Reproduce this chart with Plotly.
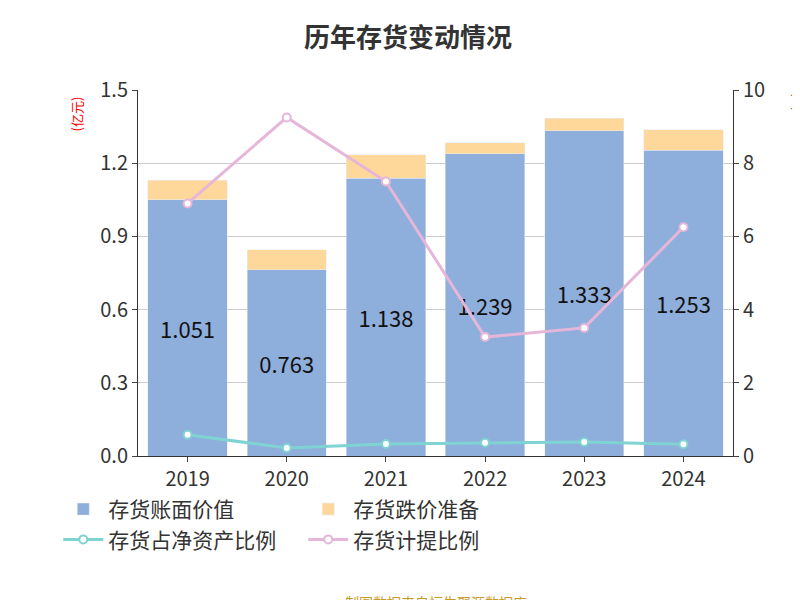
import plotly.graph_objects as go

years = ["2019", "2020", "2021", "2022", "2023", "2024"]
book = [1.051, 0.763, 1.138, 1.239, 1.333, 1.253]
reserve = [0.079, 0.082, 0.097, 0.044, 0.052, 0.085]
net_ratio = [0.58, 0.22, 0.33, 0.36, 0.38, 0.32]
prov_ratio = [6.9, 9.25, 7.5, 3.25, 3.5, 6.25]

fig = go.Figure()
fig.add_bar(x=years, y=book, name="存货账面价值", marker_color="#8eaedb",
            text=[f"{v:.3f}" for v in book], textposition="inside", insidetextanchor="middle",
            textfont=dict(size=22, color="#111"))
fig.add_bar(x=years, y=reserve, name="存货跌价准备", marker_color="#fdd89a")
fig.add_scatter(x=years, y=net_ratio, name="存货占净资产比例", yaxis="y2", mode="lines+markers",
                line=dict(color="#7fd3d3", width=3),
                marker=dict(size=8, color="white", line=dict(color="#7fd3d3", width=2)))
fig.add_scatter(x=years, y=prov_ratio, name="存货计提比例", yaxis="y2", mode="lines+markers",
                line=dict(color="#e6b6d9", width=3),
                marker=dict(size=8, color="white", line=dict(color="#e6b6d9", width=2)))

fig.update_layout(
    width=800, height=600, barmode="stack", bargap=0.2,
    font=dict(family="Noto Sans CJK SC", color="#333"),
    plot_bgcolor="white", paper_bgcolor="white",
    title=dict(text="<b>历年存货变动情况</b>", x=0.5, y=0.965, font=dict(size=26, color="#333")),
    margin=dict(l=130, r=75, t=82, b=152),
    xaxis=dict(tickfont=dict(size=20), showline=True, linecolor="#333", ticks="outside"),
    yaxis=dict(range=[0, 1.5], dtick=0.3, tickformat=".1f", tickfont=dict(size=20),
               gridcolor="#ccc", showline=True, linecolor="#333", ticks="outside"),
    yaxis2=dict(range=[0, 10], dtick=2, overlaying="y", side="right", tickfont=dict(size=20),
                showgrid=False, showline=True, linecolor="#333", ticks="outside"),
    legend=dict(orientation="h", x=-0.134, y=-0.09, xanchor="left", yanchor="top",
                font=dict(size=21), traceorder="normal", entrywidth=190, itemwidth=40),
    annotations=[
        dict(text="制图数据来自恒生聚源数据库", x=0.5, y=-0.4, xref="paper", yref="paper",
             xanchor="center", yanchor="middle", showarrow=False,
             font=dict(size=14, color="#c89a2a")),
        dict(text="(亿元)", x=0, y=1.0, xref="paper", yref="paper", xanchor="center", yanchor="top",
             textangle=-90, showarrow=False, xshift=-62, yshift=-5, font=dict(size=13, color="red")),
        dict(text="(%)", x=1.0, y=1.0, xref="paper", yref="paper", xanchor="center", yanchor="top",
             textangle=90, showarrow=False, xshift=65, font=dict(size=12, color="red")),
    ],
)
fig.write_html("out.html")
